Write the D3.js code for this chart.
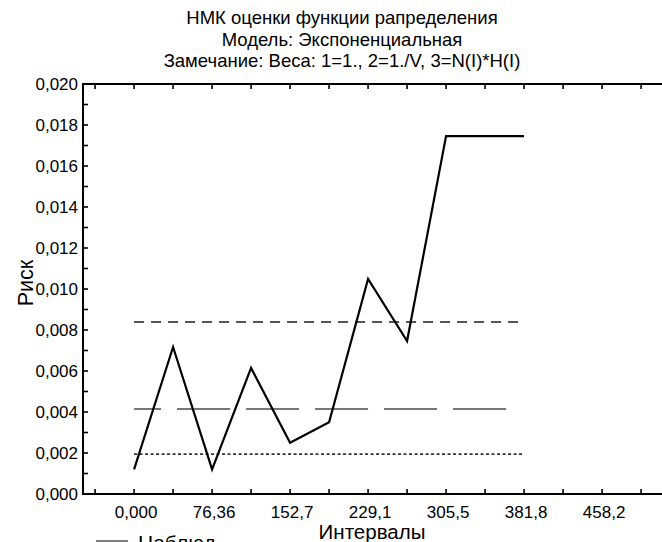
<!DOCTYPE html>
<html>
<head>
<meta charset="utf-8">
<script src="https://cdn.jsdelivr.net/npm/d3@7"></script>
<style>
  body { margin: 0; background: white; }
  text { font-family: "Liberation Sans", Arial, sans-serif; }
</style>
</head>
<body>
<div id="chart"></div>
<script>
// data
var intervals = [0, 38.18, 76.36, 114.54, 152.72, 190.9, 229.08, 267.26, 305.44, 343.62, 381.8];
var observed = [0.0012, 0.00717, 0.0012, 0.00615, 0.0025, 0.0035, 0.01049, 0.00746, 0.01746, 0.01746, 0.01746];
var weight1 = 0.00839;   // 1=1.
var weight2 = 0.00415;   // 2=1./V
var weight3 = 0.00195;   // 3=N(I)*H(I)
var xTickValues = [0, 76.36, 152.72, 229.08, 305.44, 381.8, 458.16];
var xTickLabels = ["0,000", "76,36", "152,7", "229,1", "305,5", "381,8", "458,2"];
var yTickValues = [0, 0.002, 0.004, 0.006, 0.008, 0.010, 0.012, 0.014, 0.016, 0.018, 0.020];
var titles = ["НМК оценки функции рапределения", "Модель: Экспоненциальная",
              "Замечание: Веса: 1=1., 2=1./V, 3=N(I)*H(I)"];

var w = 662, h = 542;
var pLeft = 83, pTop = 84, pBottom = 494;

var svg = d3.select('#chart').append('svg')
  .attr('width', w)
  .attr('height', h)
  .style('display', 'block');

var x = d3.scaleLinear().domain([-50, 550]).range([pLeft, pLeft + 600 * 39 / 38.18]);
var y = d3.scaleLinear().domain([0, 0.020]).range([pBottom, pTop]);
var xRight = x.range()[1];

// titles
svg.selectAll('.title')
  .data(titles)
  .enter().append('text')
  .attr('x', 342)
  .attr('y', function(d, i) { return 24 + i * 21.5; })
  .attr('text-anchor', 'middle')
  .style('font-size', '18.5px')
  .text(function(d) { return d; });

// x ticks every 38.18, labels every second one
var allX = d3.range(-38.18, 550, 38.18);
var frame = svg.append('g');
frame.selectAll('.xb')
  .data(allX)
  .enter().append('line')
  .attr('x1', function(d) { return x(d); })
  .attr('x2', function(d) { return x(d); })
  .attr('y1', pBottom)
  .attr('y2', pBottom - 5)
  .attr('stroke', 'black')
  .attr('stroke-width', 1.6);
frame.selectAll('.xt')
  .data(allX)
  .enter().append('line')
  .attr('x1', function(d) { return x(d); })
  .attr('x2', function(d) { return x(d); })
  .attr('y1', pTop)
  .attr('y2', pTop + 5)
  .attr('stroke', 'black')
  .attr('stroke-width', 1.6);

// y ticks, minor every 0.001
frame.selectAll('.yt')
  .data(d3.range(0, 0.0205, 0.001))
  .enter().append('line')
  .attr('x1', pLeft)
  .attr('x2', pLeft + 5)
  .attr('y1', function(d) { return y(d); })
  .attr('y2', function(d) { return y(d); })
  .attr('stroke', 'black')
  .attr('stroke-width', 1.6);

frame.append('path')
  .attr('d', 'M' + xRight + ',' + pTop + 'H' + pLeft + 'V' + pBottom + 'H' + xRight)
  .attr('fill', 'none')
  .attr('stroke', 'black')
  .attr('stroke-width', 2);

svg.selectAll('.xl')
  .data(xTickValues)
  .enter().append('text')
  .attr('x', function(d) { return x(d) + 2; })
  .attr('y', 518)
  .attr('text-anchor', 'middle')
  .style('font-size', '17px')
  .text(function(d, i) { return xTickLabels[i]; });

svg.selectAll('.yl')
  .data(yTickValues)
  .enter().append('text')
  .attr('x', 78)
  .attr('y', function(d) { return y(d) + 6; })
  .attr('text-anchor', 'end')
  .style('font-size', '17px')
  .text(function(d) { return d3.format('.3f')(d).replace('.', ','); });

// axis titles
svg.append('text')
  .attr('transform', 'translate(33,283) rotate(-90)')
  .attr('text-anchor', 'middle')
  .style('font-size', '21.5px')
  .text('Риск');

svg.append('text')
  .attr('x', 372)
  .attr('y', 539)
  .attr('text-anchor', 'middle')
  .style('font-size', '20.5px')
  .text('Интервалы');

// weight lines
var x0 = x(intervals[0]), x1 = x(intervals[intervals.length - 1]);
svg.append('line')
  .attr('x1', x0).attr('x2', x1)
  .attr('y1', y(weight1)).attr('y2', y(weight1))
  .attr('stroke', '#555')
  .attr('stroke-width', 2)
  .attr('stroke-dasharray', '10,7');
svg.append('line')
  .attr('x1', x0).attr('x2', x1)
  .attr('y1', y(weight2)).attr('y2', y(weight2))
  .attr('stroke', '#777')
  .attr('stroke-width', 2)
  .attr('stroke-dasharray', '27,16,53,16,53,16,53,16,53,16,53,50');
svg.append('line')
  .attr('x1', x0).attr('x2', x1)
  .attr('y1', y(weight3)).attr('y2', y(weight3))
  .attr('stroke', '#333')
  .attr('stroke-width', 1.8)
  .attr('stroke-dasharray', '3,2.5');

// observed
var line = d3.line()
  .x(function(d, i) { return x(intervals[i]); })
  .y(function(d) { return y(d); });
svg.append('path')
  .datum(observed)
  .attr('d', line)
  .attr('fill', 'none')
  .attr('stroke', 'black')
  .attr('stroke-width', 2.2)
  .attr('stroke-linejoin', 'miter');

// legend (cut by the bottom edge)
svg.append('line')
  .attr('x1', 96).attr('x2', 128)
  .attr('y1', 541).attr('y2', 541)
  .attr('stroke', '#555')
  .attr('stroke-width', 1.5);
svg.append('text')
  .attr('x', 138)
  .attr('y', 550)
  .style('font-size', '21px')
  .text('Наблюд');
</script>
</body>
</html>
